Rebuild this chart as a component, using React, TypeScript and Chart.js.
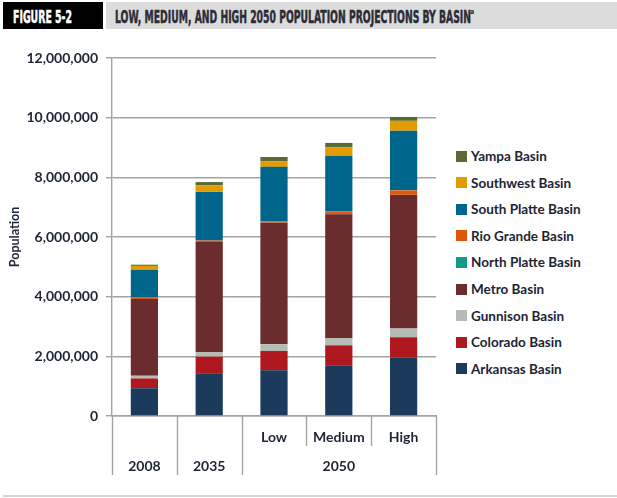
import React, { useEffect, useRef } from "react";
import { Chart, registerables } from "chart.js";

Chart.register(...registerables);

// ---- Data ----
const subLabels = ["", "", "Low", "Medium", "High"];
const groupLabels = ["2008", "2035", "2050", "2050", "2050"];

const seriesNames = [
  "Arkansas Basin",
  "Colorado Basin",
  "Gunnison Basin",
  "Metro Basin",
  "North Platte Basin",
  "Rio Grande Basin",
  "South Platte Basin",
  "Southwest Basin",
  "Yampa Basin",
];
const arkansas = [930000, 1430000, 1530000, 1680000, 1960000];
const colorado = [330000, 560000, 650000, 690000, 680000];
const gunnison = [90000, 150000, 230000, 240000, 290000];
const metro = [2570000, 3690000, 4070000, 4150000, 4480000];
const northPlatte = [1500, 2000, 2500, 3000, 3500];
const rioGrande = [50000, 50000, 40000, 100000, 150000];
const southPlatte = [930000, 1630000, 1830000, 1860000, 2000000];
const southwest = [130000, 220000, 180000, 280000, 330000];
const yampa = [40000, 110000, 150000, 150000, 130000];

const seriesValues = [arkansas, colorado, gunnison, metro, northPlatte, rioGrande, southPlatte, southwest, yampa];
const seriesColors = ["#1b3a5c", "#b0181f", "#b5bbb5", "#6a2c2c", "#0f9a8a", "#e0560c", "#00658a", "#e29c00", "#5b6a34"];

const yMin = 0;
const yMax = 12000000;
const yStep = 2000000;
const yTitle = "Population";

const figureLabel = "FIGURE 5-2";
const figureTitle = "LOW, MEDIUM, AND HIGH 2050 POPULATION PROJECTIONS BY BASIN";

const TEXT = "#1d2434";
const GRID = "#a3a3a3";
const FONT = "Lato, 'Open Sans', sans-serif";

// build multi-level labels: group label placed on the middle category of its span
function buildLabels(): string[][] {
  const out: string[][] = subLabels.map((s) => [s]);
  let i = 0;
  while (i < groupLabels.length) {
    let j = i;
    while (j + 1 < groupLabels.length && groupLabels[j + 1] === groupLabels[i]) j++;
    const mid = Math.floor((i + j) / 2);
    for (let k = i; k <= j; k++) out[k] = [subLabels[k], k === mid ? groupLabels[k] : ""];
    i = j + 1;
  }
  return out;
}

const separatorPlugin = {
  id: "separators",
  afterDraw(chart: any) {
    const xs = chart.scales.x;
    const area = chart.chartArea;
    const ctx = chart.ctx;
    const n = groupLabels.length;
    const step = n > 1 ? xs.getPixelForValue(1) - xs.getPixelForValue(0) : area.right - area.left;
    ctx.save();
    ctx.strokeStyle = GRID;
    ctx.lineWidth = 1.4;
    for (let b = 0; b <= n; b++) {
      const x = b < n ? xs.getPixelForValue(b) - step / 2 : xs.getPixelForValue(n - 1) + step / 2;
      const long = b === 0 || b === n || groupLabels[b] !== groupLabels[b - 1];
      const len = long ? 59 : 30;
      ctx.beginPath();
      ctx.moveTo(Math.round(x) + 0.5, area.bottom);
      ctx.lineTo(Math.round(x) + 0.5, area.bottom + len);
      ctx.stroke();
    }
    ctx.restore();
  },
};

function ChartCanvas() {
  const ref = useRef<HTMLCanvasElement | null>(null);
  useEffect(() => {
    if (!ref.current) return;
    const chart = new Chart(ref.current, {
      type: "bar",
      data: {
        labels: buildLabels(),
        datasets: seriesNames.map((name, i) => ({
          label: name,
          data: seriesValues[i],
          backgroundColor: seriesColors[i],
          borderWidth: 0,
          barPercentage: 0.42,
          categoryPercentage: 1,
        })),
      },
      options: {
        animation: false,
        responsive: false,
        layout: { padding: { top: 18, right: 9, bottom: 0, left: 0 } },
        plugins: { legend: { display: false }, tooltip: { enabled: false } },
        scales: {
          x: {
            stacked: true,
            grid: { display: false, drawTicks: false, tickLength: 0 },
            border: { display: true, color: GRID, width: 1.4 },
            ticks: {
              color: TEXT,
              font: { family: FONT, size: 14, weight: "bold", lineHeight: 29 / 14 },
              padding: 6.5,
              maxRotation: 0,
              autoSkip: false,
            },
            afterFit(s: any) {
              s.height = 82;
            },
          },
          y: {
            stacked: true,
            min: yMin,
            max: yMax,
            ticks: {
              stepSize: yStep,
              color: TEXT,
              padding: 8,
              font: { family: FONT, size: 14, weight: "bold" },
              callback: (v: any) => Number(v).toLocaleString("en-US"),
            },
            grid: { color: GRID, lineWidth: 1.4, tickLength: 6, drawTicks: true, tickColor: GRID },
            border: { display: true, color: GRID, width: 1.4 },
            title: {
              display: true,
              text: yTitle,
              color: TEXT,
              font: { family: FONT, size: 12.5, weight: "bold", lineHeight: 1.2 },
              padding: { top: 7, bottom: 0 },
            },
            afterFit(s: any) {
              s.width = 112;
            },
          },
        },
      },
      plugins: [separatorPlugin],
    });
    return () => chart.destroy();
  }, []);
  return (
    <canvas
      ref={ref}
      width={445}
      height={458}
      style={{ position: "absolute", left: 0, top: 40, width: 445, height: 458 }}
    />
  );
}

export default function App() {
  const legendItems = seriesNames.map((n, i) => ({ name: n, color: seriesColors[i] })).reverse();
  return (
    <div style={{ position: "absolute", left: 0, top: 0, width: 617, height: 498, background: "#fff", overflow: "hidden" }}>
      <svg width={617} height={32} style={{ position: "absolute", left: 0, top: 0 }}>
        <rect x={3} y={2} width={100} height={27} fill="#000" />
        <rect x={106} y={2} width={511} height={27} fill="#dcdcdc" />
        <text
          x={13}
          y={22.5}
          fill="#fff"
          stroke="#fff"
          strokeWidth={0.5}
          fontFamily="'DejaVu Sans Condensed', 'DejaVu Sans', sans-serif"
          fontWeight="bold"
          fontSize={17.5}
          textLength={59}
          lengthAdjust="spacingAndGlyphs"
        >
          {figureLabel}
        </text>
        <text
          x={115}
          y={22.5}
          fill="#2c2c36"
          stroke="#2c2c36"
          strokeWidth={0.5}
          fontFamily="'DejaVu Sans Condensed', 'DejaVu Sans', sans-serif"
          fontWeight="bold"
          fontSize={17.5}
          textLength={356}
          lengthAdjust="spacingAndGlyphs"
        >
          {figureTitle}
        </text>
        <text x={470} y={14} fill="#2c2c36" fontFamily="'DejaVu Sans Condensed', sans-serif" fontWeight="bold" fontSize={7}>
          a
        </text>
      </svg>
      <ChartCanvas />
      {legendItems.map((it, k) => (
        <div
          key={it.name}
          style={{
            position: "absolute",
            left: 456,
            top: 156 + k * 26.6 - 8,
            height: 16,
            display: "flex",
            alignItems: "center",
            whiteSpace: "nowrap",
          }}
        >
          <span style={{ display: "inline-block", width: 11, height: 11, background: it.color, marginRight: 4 }} />
          <span style={{ fontFamily: FONT, fontWeight: 700, fontSize: 13.5, color: TEXT, lineHeight: "16px" }}>{it.name}</span>
        </div>
      ))}
      <div style={{ position: "absolute", left: 3, top: 495, width: 614, height: 2, background: "#d6d6d6" }} />
    </div>
  );
}
